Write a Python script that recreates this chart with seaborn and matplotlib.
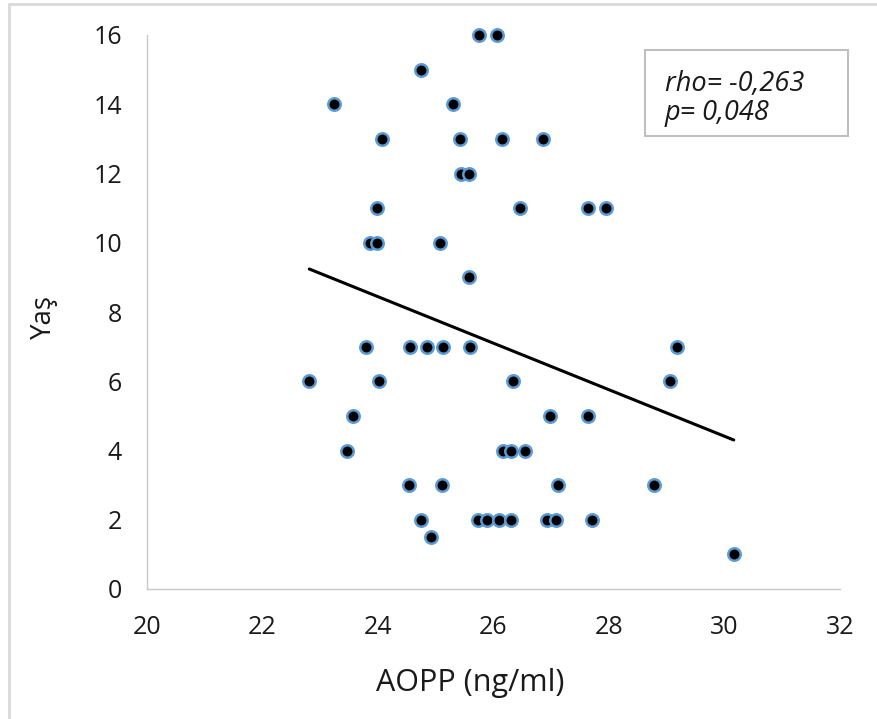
import matplotlib
matplotlib.use("Agg")
import matplotlib.pyplot as plt
import seaborn as sns
import pandas as pd
from matplotlib.lines import Line2D
from matplotlib.patches import Rectangle

# AOPP (ng/ml) values, grouped by age
aopp = [25.75, 26.06,
        24.74,
        23.23, 25.30,
        24.07, 25.42, 26.15, 26.86,
        25.44, 25.58,
        23.98, 26.46, 27.64, 27.95,
        23.86, 23.99, 25.07,
        25.58,
        23.79, 24.55, 24.84, 25.13, 25.59, 29.17,
        22.81, 24.02, 26.33, 29.06,
        23.56, 26.98, 27.64,
        23.46, 26.17, 26.31, 26.55,
        24.54, 25.11, 27.11, 28.78,
        24.74, 25.74, 25.89, 26.10, 26.30, 26.93, 27.09, 27.71,
        24.92,
        30.16]
yas = [16, 16,
       15,
       14, 14,
       13, 13, 13, 13,
       12, 12,
       11, 11, 11, 11,
       10, 10, 10,
       9,
       7, 7, 7, 7, 7, 7,
       6, 6, 6, 6,
       5, 5, 5,
       4, 4, 4, 4,
       3, 3, 3, 3,
       2, 2, 2, 2, 2, 2, 2, 2,
       1.5,
       1]
x_ticks = [20, 22, 24, 26, 28, 30, 32]
y_ticks = [0, 2, 4, 6, 8, 10, 12, 14, 16]
stats_lines = ["rho= -0,263", "p= 0,048"]

df = pd.DataFrame({"AOPP": aopp, "Yas": yas})

sns.set_theme(style="white")
plt.rcParams["font.family"] = ["Open Sans", "DejaVu Sans"]

fig = plt.figure(figsize=(8.78, 7.19), dpi=100)
ax = fig.add_axes([147 / 878, 1 - 589 / 719, 693 / 878, 554 / 719])

sns.regplot(data=df, x="AOPP", y="Yas", ax=ax, ci=None, truncate=True,
            scatter_kws=dict(s=80, color="black", edgecolors="#5B9BD5",
                             linewidths=1.8, alpha=1, zorder=3, clip_on=False),
            line_kws=dict(color="black", lw=2.2, zorder=2))

ax.set_xlim(20, 32)
ax.set_ylim(0, 16)
ax.set_xticks(x_ticks)
ax.set_yticks(y_ticks)
ax.tick_params(axis="both", length=0, labelsize=18, colors="#1a1a1a")
ax.tick_params(axis="x", pad=19)
ax.tick_params(axis="y", pad=18)

for side in ["top", "right"]:
    ax.spines[side].set_visible(False)
for side in ["left", "bottom"]:
    ax.spines[side].set_color("#C8C8C8")
    ax.spines[side].set_linewidth(1.0)

ax.set_xlabel("AOPP (ng/ml)", fontsize=22, color="#1a1a1a", va="top")
ax.xaxis.set_label_coords((470 - 147) / 693, (589 - 668) / 554)
ax.set_ylabel("Yaş", fontsize=20, color="#1a1a1a", va="center")
ax.yaxis.set_label_coords((44 - 147) / 693, (589 - 317) / 554)

# stats box
fig.patches.append(Rectangle((645 / 878, 1 - 136 / 719), 203 / 878, 86 / 719,
                             transform=fig.transFigure, fill=False,
                             edgecolor="#BFBFBF", lw=1.5))
fig.text(665 / 878, 1 - 91 / 719, stats_lines[0], fontsize=19.5, style="italic",
         color="#1a1a1a", va="baseline")
fig.text(665 / 878, 1 - 120 / 719, stats_lines[1], fontsize=19.5, style="italic",
         color="#1a1a1a", va="baseline")

# outer chart frame (left and top edges visible)
fig.add_artist(Line2D([9 / 878, 9 / 878], [0, 1 - 4 / 719], transform=fig.transFigure,
                      color="#D9D9D9", lw=2))
fig.add_artist(Line2D([9 / 878, 1], [1 - 4 / 719, 1 - 4 / 719], transform=fig.transFigure,
                      color="#D9D9D9", lw=2))

fig.savefig("out.png", dpi=100)
